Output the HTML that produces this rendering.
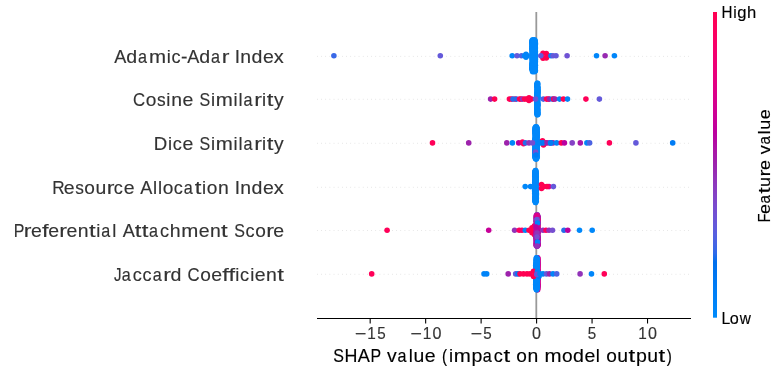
<!DOCTYPE html><html><head><meta charset="utf-8"><style>html,body{margin:0;padding:0;background:#fff;width:774px;height:370px;overflow:hidden}svg{display:block;will-change:transform}text{font-family:"Liberation Sans",sans-serif}</style></head><body>
<svg width="774" height="370" viewBox="0 0 774 370">
<defs><linearGradient id="cb" x1="0" y1="1" x2="0" y2="0">
<stop offset="0.000" stop-color="#008bfb"/>
<stop offset="0.030" stop-color="#0086fa"/>
<stop offset="0.061" stop-color="#0082f8"/>
<stop offset="0.091" stop-color="#007ef6"/>
<stop offset="0.121" stop-color="#0079f3"/>
<stop offset="0.152" stop-color="#0074f0"/>
<stop offset="0.182" stop-color="#006fed"/>
<stop offset="0.212" stop-color="#306ae9"/>
<stop offset="0.242" stop-color="#4664e4"/>
<stop offset="0.273" stop-color="#575fdf"/>
<stop offset="0.303" stop-color="#6459da"/>
<stop offset="0.333" stop-color="#6f52d4"/>
<stop offset="0.364" stop-color="#794cce"/>
<stop offset="0.394" stop-color="#8244c7"/>
<stop offset="0.424" stop-color="#8a3cc0"/>
<stop offset="0.455" stop-color="#9233b9"/>
<stop offset="0.485" stop-color="#9829b1"/>
<stop offset="0.515" stop-color="#a01fab"/>
<stop offset="0.545" stop-color="#aa17a7"/>
<stop offset="0.576" stop-color="#b30aa3"/>
<stop offset="0.606" stop-color="#bc009f"/>
<stop offset="0.636" stop-color="#c5009a"/>
<stop offset="0.667" stop-color="#cd0095"/>
<stop offset="0.697" stop-color="#d40090"/>
<stop offset="0.727" stop-color="#db008a"/>
<stop offset="0.758" stop-color="#e10084"/>
<stop offset="0.788" stop-color="#e7007e"/>
<stop offset="0.818" stop-color="#ec0078"/>
<stop offset="0.848" stop-color="#f10072"/>
<stop offset="0.879" stop-color="#f6006c"/>
<stop offset="0.909" stop-color="#fa0065"/>
<stop offset="0.939" stop-color="#fd005f"/>
<stop offset="0.970" stop-color="#ff0058"/>
<stop offset="1.000" stop-color="#ff0051"/>
<stop offset="1" stop-color="#ff0051"/>
</linearGradient></defs>
<line x1="317" y1="56.40" x2="691" y2="56.40" stroke="#d0d0d0" stroke-width="0.7" stroke-dasharray="0.7 3.47"/>
<line x1="317" y1="99.30" x2="691" y2="99.30" stroke="#d0d0d0" stroke-width="0.7" stroke-dasharray="0.7 3.47"/>
<line x1="317" y1="143.30" x2="691" y2="143.30" stroke="#d0d0d0" stroke-width="0.7" stroke-dasharray="0.7 3.47"/>
<line x1="317" y1="187.30" x2="691" y2="187.30" stroke="#d0d0d0" stroke-width="0.7" stroke-dasharray="0.7 3.47"/>
<line x1="317" y1="230.50" x2="691" y2="230.50" stroke="#d0d0d0" stroke-width="0.7" stroke-dasharray="0.7 3.47"/>
<line x1="317" y1="274.30" x2="691" y2="274.30" stroke="#d0d0d0" stroke-width="0.7" stroke-dasharray="0.7 3.47"/>
<line x1="536.3" y1="12" x2="536.3" y2="318.5" stroke="#999999" stroke-width="1.8"/>
<circle cx="333.90" cy="55.80" r="2.78" fill="#3968e7"/>
<circle cx="440.30" cy="55.80" r="2.78" fill="#6459da"/>
<circle cx="512.20" cy="55.80" r="2.78" fill="#0086fa"/>
<circle cx="517.00" cy="55.80" r="2.78" fill="#6459da"/>
<circle cx="521.50" cy="55.80" r="2.78" fill="#4c63e3"/>
<circle cx="524.50" cy="55.80" r="2.78" fill="#0084f8"/>
<circle cx="527.00" cy="55.80" r="2.78" fill="#007cf5"/>
<circle cx="526.00" cy="54.30" r="2.78" fill="#0084f8"/>
<circle cx="526.00" cy="57.30" r="2.78" fill="#0084f8"/>
<circle cx="532.68" cy="39.68" r="2.78" fill="#0088fa"/>
<circle cx="534.52" cy="39.68" r="2.78" fill="#0088fa"/>
<circle cx="531.92" cy="40.79" r="2.78" fill="#0088fa"/>
<circle cx="535.15" cy="40.79" r="2.78" fill="#0088fa"/>
<circle cx="533.13" cy="40.79" r="2.78" fill="#0088fa"/>
<circle cx="532.14" cy="41.90" r="2.78" fill="#0088fa"/>
<circle cx="535.20" cy="41.90" r="2.78" fill="#0088fa"/>
<circle cx="532.02" cy="41.90" r="2.78" fill="#0088fa"/>
<circle cx="531.79" cy="43.00" r="2.78" fill="#0088fa"/>
<circle cx="535.32" cy="43.00" r="2.78" fill="#0088fa"/>
<circle cx="532.72" cy="43.00" r="2.78" fill="#0088fa"/>
<circle cx="531.92" cy="44.11" r="2.78" fill="#0088fa"/>
<circle cx="535.42" cy="44.11" r="2.78" fill="#0088fa"/>
<circle cx="533.49" cy="44.11" r="2.78" fill="#0088fa"/>
<circle cx="532.28" cy="45.22" r="2.78" fill="#0088fa"/>
<circle cx="535.11" cy="45.22" r="2.78" fill="#0088fa"/>
<circle cx="534.11" cy="45.22" r="2.78" fill="#0088fa"/>
<circle cx="531.87" cy="46.33" r="2.78" fill="#0088fa"/>
<circle cx="535.20" cy="46.33" r="2.78" fill="#0088fa"/>
<circle cx="534.94" cy="46.33" r="2.78" fill="#0088fa"/>
<circle cx="532.09" cy="47.44" r="2.78" fill="#0088fa"/>
<circle cx="535.26" cy="47.44" r="2.78" fill="#0088fa"/>
<circle cx="534.22" cy="47.44" r="2.78" fill="#0088fa"/>
<circle cx="531.82" cy="48.55" r="2.78" fill="#0088fa"/>
<circle cx="535.27" cy="48.55" r="2.78" fill="#0088fa"/>
<circle cx="533.93" cy="48.55" r="2.78" fill="#0088fa"/>
<circle cx="531.96" cy="49.65" r="2.78" fill="#0088fa"/>
<circle cx="534.84" cy="49.65" r="2.78" fill="#0088fa"/>
<circle cx="534.93" cy="49.65" r="2.78" fill="#0088fa"/>
<circle cx="532.06" cy="50.76" r="2.78" fill="#0088fa"/>
<circle cx="535.25" cy="50.76" r="2.78" fill="#0088fa"/>
<circle cx="534.98" cy="50.76" r="2.78" fill="#0088fa"/>
<circle cx="532.21" cy="51.87" r="2.78" fill="#0088fa"/>
<circle cx="535.37" cy="51.87" r="2.78" fill="#0088fa"/>
<circle cx="533.22" cy="51.87" r="2.78" fill="#0088fa"/>
<circle cx="532.26" cy="52.98" r="2.78" fill="#0088fa"/>
<circle cx="535.09" cy="52.98" r="2.78" fill="#0088fa"/>
<circle cx="535.19" cy="52.98" r="2.78" fill="#0088fa"/>
<circle cx="532.31" cy="54.09" r="2.78" fill="#0088fa"/>
<circle cx="534.88" cy="54.09" r="2.78" fill="#0088fa"/>
<circle cx="532.27" cy="54.09" r="2.78" fill="#0088fa"/>
<circle cx="531.91" cy="55.20" r="2.78" fill="#0088fa"/>
<circle cx="535.40" cy="55.20" r="2.78" fill="#0088fa"/>
<circle cx="533.37" cy="55.20" r="2.78" fill="#0088fa"/>
<circle cx="532.16" cy="56.30" r="2.78" fill="#0088fa"/>
<circle cx="535.00" cy="56.30" r="2.78" fill="#0088fa"/>
<circle cx="533.63" cy="56.30" r="2.78" fill="#0088fa"/>
<circle cx="532.01" cy="57.41" r="2.78" fill="#0088fa"/>
<circle cx="535.03" cy="57.41" r="2.78" fill="#0088fa"/>
<circle cx="533.91" cy="57.41" r="2.78" fill="#0088fa"/>
<circle cx="532.13" cy="58.52" r="2.78" fill="#0088fa"/>
<circle cx="535.36" cy="58.52" r="2.78" fill="#0088fa"/>
<circle cx="534.26" cy="58.52" r="2.78" fill="#0088fa"/>
<circle cx="532.34" cy="59.63" r="2.78" fill="#0088fa"/>
<circle cx="535.33" cy="59.63" r="2.78" fill="#0088fa"/>
<circle cx="535.39" cy="59.63" r="2.78" fill="#0088fa"/>
<circle cx="532.18" cy="60.74" r="2.78" fill="#0088fa"/>
<circle cx="534.92" cy="60.74" r="2.78" fill="#0088fa"/>
<circle cx="534.91" cy="60.74" r="2.78" fill="#0088fa"/>
<circle cx="532.36" cy="61.85" r="2.78" fill="#0088fa"/>
<circle cx="535.36" cy="61.85" r="2.78" fill="#0088fa"/>
<circle cx="533.85" cy="61.85" r="2.78" fill="#0088fa"/>
<circle cx="532.21" cy="62.95" r="2.78" fill="#0088fa"/>
<circle cx="534.95" cy="62.95" r="2.78" fill="#0088fa"/>
<circle cx="534.81" cy="62.95" r="2.78" fill="#0088fa"/>
<circle cx="532.12" cy="64.06" r="2.78" fill="#0088fa"/>
<circle cx="534.99" cy="64.06" r="2.78" fill="#0088fa"/>
<circle cx="532.01" cy="64.06" r="2.78" fill="#0088fa"/>
<circle cx="532.29" cy="65.17" r="2.78" fill="#0088fa"/>
<circle cx="535.41" cy="65.17" r="2.78" fill="#0088fa"/>
<circle cx="532.10" cy="65.17" r="2.78" fill="#0088fa"/>
<circle cx="532.26" cy="66.28" r="2.78" fill="#0088fa"/>
<circle cx="535.07" cy="66.28" r="2.78" fill="#0088fa"/>
<circle cx="532.33" cy="66.28" r="2.78" fill="#0088fa"/>
<circle cx="531.96" cy="67.39" r="2.78" fill="#0088fa"/>
<circle cx="535.28" cy="67.39" r="2.78" fill="#0088fa"/>
<circle cx="534.96" cy="67.39" r="2.78" fill="#0088fa"/>
<circle cx="531.81" cy="68.50" r="2.78" fill="#0088fa"/>
<circle cx="535.19" cy="68.50" r="2.78" fill="#0088fa"/>
<circle cx="531.94" cy="68.50" r="2.78" fill="#0088fa"/>
<circle cx="532.21" cy="69.60" r="2.78" fill="#0088fa"/>
<circle cx="535.02" cy="69.60" r="2.78" fill="#0088fa"/>
<circle cx="534.99" cy="69.60" r="2.78" fill="#0088fa"/>
<circle cx="532.37" cy="70.71" r="2.78" fill="#0088fa"/>
<circle cx="535.12" cy="70.71" r="2.78" fill="#0088fa"/>
<circle cx="535.41" cy="70.71" r="2.78" fill="#0088fa"/>
<circle cx="532.68" cy="71.82" r="2.78" fill="#0088fa"/>
<circle cx="534.52" cy="71.82" r="2.78" fill="#0088fa"/>
<circle cx="543.00" cy="53.40" r="2.78" fill="#ff0051"/>
<circle cx="543.00" cy="58.20" r="2.78" fill="#ff0051"/>
<circle cx="546.30" cy="53.60" r="2.78" fill="#ff0051"/>
<circle cx="546.30" cy="58.00" r="2.78" fill="#ff0051"/>
<circle cx="548.30" cy="55.80" r="2.78" fill="#ff0051"/>
<circle cx="540.80" cy="55.80" r="2.78" fill="#6459da"/>
<circle cx="551.00" cy="55.80" r="2.78" fill="#0084f8"/>
<circle cx="553.00" cy="55.80" r="2.78" fill="#6459da"/>
<circle cx="556.00" cy="55.80" r="2.78" fill="#6459da"/>
<circle cx="567.10" cy="55.80" r="2.78" fill="#6f52d4"/>
<circle cx="596.50" cy="55.80" r="2.78" fill="#0086fa"/>
<circle cx="605.10" cy="55.80" r="2.78" fill="#9829b1"/>
<circle cx="614.40" cy="55.80" r="2.78" fill="#0086fa"/>
<circle cx="490.60" cy="99.10" r="2.78" fill="#9d22ac"/>
<circle cx="494.60" cy="99.10" r="2.78" fill="#ff0051"/>
<circle cx="509.40" cy="99.10" r="2.78" fill="#ff0058"/>
<circle cx="511.50" cy="99.10" r="2.78" fill="#ff0051"/>
<circle cx="515.00" cy="99.10" r="2.78" fill="#fe005c"/>
<circle cx="513.00" cy="99.10" r="2.78" fill="#266cea"/>
<circle cx="516.50" cy="99.10" r="2.78" fill="#266cea"/>
<circle cx="519.50" cy="99.10" r="2.78" fill="#fe005c"/>
<circle cx="521.00" cy="99.10" r="2.78" fill="#ff0051"/>
<circle cx="522.50" cy="99.10" r="2.78" fill="#9233b9"/>
<circle cx="524.50" cy="99.10" r="2.78" fill="#ff0051"/>
<circle cx="526.50" cy="99.10" r="2.78" fill="#ff0051"/>
<circle cx="529.00" cy="97.80" r="2.78" fill="#ff0051"/>
<circle cx="529.00" cy="100.40" r="2.78" fill="#ff0051"/>
<circle cx="531.50" cy="99.10" r="2.78" fill="#ff0051"/>
<circle cx="537.68" cy="83.18" r="2.78" fill="#0088fa"/>
<circle cx="537.12" cy="83.18" r="2.78" fill="#0088fa"/>
<circle cx="536.97" cy="84.27" r="2.78" fill="#0088fa"/>
<circle cx="537.47" cy="84.27" r="2.78" fill="#0088fa"/>
<circle cx="537.52" cy="84.27" r="2.78" fill="#0088fa"/>
<circle cx="536.80" cy="85.36" r="2.78" fill="#0088fa"/>
<circle cx="537.54" cy="85.36" r="2.78" fill="#0088fa"/>
<circle cx="537.29" cy="85.36" r="2.78" fill="#0088fa"/>
<circle cx="537.15" cy="86.45" r="2.78" fill="#0088fa"/>
<circle cx="537.51" cy="86.45" r="2.78" fill="#0088fa"/>
<circle cx="536.83" cy="86.45" r="2.78" fill="#0088fa"/>
<circle cx="537.30" cy="87.54" r="2.78" fill="#0088fa"/>
<circle cx="537.61" cy="87.54" r="2.78" fill="#0088fa"/>
<circle cx="537.97" cy="87.54" r="2.78" fill="#0088fa"/>
<circle cx="537.32" cy="88.64" r="2.78" fill="#0088fa"/>
<circle cx="537.65" cy="88.64" r="2.78" fill="#0088fa"/>
<circle cx="537.35" cy="88.64" r="2.78" fill="#0088fa"/>
<circle cx="537.09" cy="89.73" r="2.78" fill="#0088fa"/>
<circle cx="537.81" cy="89.73" r="2.78" fill="#0088fa"/>
<circle cx="537.52" cy="89.73" r="2.78" fill="#0088fa"/>
<circle cx="537.12" cy="90.82" r="2.78" fill="#0088fa"/>
<circle cx="537.79" cy="90.82" r="2.78" fill="#0088fa"/>
<circle cx="537.95" cy="90.82" r="2.78" fill="#0088fa"/>
<circle cx="537.08" cy="91.91" r="2.78" fill="#0088fa"/>
<circle cx="537.68" cy="91.91" r="2.78" fill="#0088fa"/>
<circle cx="537.67" cy="91.91" r="2.78" fill="#0088fa"/>
<circle cx="536.92" cy="93.00" r="2.78" fill="#0088fa"/>
<circle cx="537.60" cy="93.00" r="2.78" fill="#0088fa"/>
<circle cx="537.99" cy="93.00" r="2.78" fill="#0088fa"/>
<circle cx="537.09" cy="94.09" r="2.78" fill="#0088fa"/>
<circle cx="537.75" cy="94.09" r="2.78" fill="#0088fa"/>
<circle cx="536.79" cy="94.09" r="2.78" fill="#0088fa"/>
<circle cx="537.03" cy="95.18" r="2.78" fill="#0088fa"/>
<circle cx="537.77" cy="95.18" r="2.78" fill="#0088fa"/>
<circle cx="536.80" cy="95.18" r="2.78" fill="#0088fa"/>
<circle cx="537.15" cy="96.27" r="2.78" fill="#0088fa"/>
<circle cx="537.80" cy="96.27" r="2.78" fill="#0088fa"/>
<circle cx="536.85" cy="96.27" r="2.78" fill="#0088fa"/>
<circle cx="537.16" cy="97.36" r="2.78" fill="#0088fa"/>
<circle cx="537.70" cy="97.36" r="2.78" fill="#0088fa"/>
<circle cx="537.62" cy="97.36" r="2.78" fill="#0088fa"/>
<circle cx="536.99" cy="98.45" r="2.78" fill="#0088fa"/>
<circle cx="537.84" cy="98.45" r="2.78" fill="#0088fa"/>
<circle cx="537.70" cy="98.45" r="2.78" fill="#0088fa"/>
<circle cx="536.79" cy="99.55" r="2.78" fill="#0088fa"/>
<circle cx="537.46" cy="99.55" r="2.78" fill="#0088fa"/>
<circle cx="537.62" cy="99.55" r="2.78" fill="#0088fa"/>
<circle cx="537.36" cy="100.64" r="2.78" fill="#0088fa"/>
<circle cx="537.57" cy="100.64" r="2.78" fill="#0088fa"/>
<circle cx="537.35" cy="100.64" r="2.78" fill="#0088fa"/>
<circle cx="537.14" cy="101.73" r="2.78" fill="#0088fa"/>
<circle cx="537.61" cy="101.73" r="2.78" fill="#0088fa"/>
<circle cx="537.23" cy="101.73" r="2.78" fill="#0088fa"/>
<circle cx="536.97" cy="102.82" r="2.78" fill="#0088fa"/>
<circle cx="537.64" cy="102.82" r="2.78" fill="#0088fa"/>
<circle cx="537.52" cy="102.82" r="2.78" fill="#0088fa"/>
<circle cx="536.96" cy="103.91" r="2.78" fill="#0088fa"/>
<circle cx="537.65" cy="103.91" r="2.78" fill="#0088fa"/>
<circle cx="537.74" cy="103.91" r="2.78" fill="#0088fa"/>
<circle cx="536.80" cy="105.00" r="2.78" fill="#0088fa"/>
<circle cx="537.76" cy="105.00" r="2.78" fill="#0088fa"/>
<circle cx="537.69" cy="105.00" r="2.78" fill="#0088fa"/>
<circle cx="536.97" cy="106.09" r="2.78" fill="#0088fa"/>
<circle cx="537.55" cy="106.09" r="2.78" fill="#0088fa"/>
<circle cx="537.78" cy="106.09" r="2.78" fill="#0088fa"/>
<circle cx="536.92" cy="107.18" r="2.78" fill="#0088fa"/>
<circle cx="537.53" cy="107.18" r="2.78" fill="#0088fa"/>
<circle cx="537.32" cy="107.18" r="2.78" fill="#0088fa"/>
<circle cx="537.20" cy="108.27" r="2.78" fill="#0088fa"/>
<circle cx="537.48" cy="108.27" r="2.78" fill="#0088fa"/>
<circle cx="537.18" cy="108.27" r="2.78" fill="#0088fa"/>
<circle cx="536.98" cy="109.36" r="2.78" fill="#0088fa"/>
<circle cx="537.92" cy="109.36" r="2.78" fill="#0088fa"/>
<circle cx="537.32" cy="109.36" r="2.78" fill="#0088fa"/>
<circle cx="537.29" cy="110.46" r="2.78" fill="#0088fa"/>
<circle cx="537.52" cy="110.46" r="2.78" fill="#0088fa"/>
<circle cx="537.20" cy="110.46" r="2.78" fill="#0088fa"/>
<circle cx="537.17" cy="111.55" r="2.78" fill="#0088fa"/>
<circle cx="537.95" cy="111.55" r="2.78" fill="#0088fa"/>
<circle cx="537.34" cy="111.55" r="2.78" fill="#0088fa"/>
<circle cx="536.92" cy="112.64" r="2.78" fill="#0088fa"/>
<circle cx="537.49" cy="112.64" r="2.78" fill="#0088fa"/>
<circle cx="537.44" cy="112.64" r="2.78" fill="#0088fa"/>
<circle cx="536.89" cy="113.73" r="2.78" fill="#0088fa"/>
<circle cx="537.90" cy="113.73" r="2.78" fill="#0088fa"/>
<circle cx="537.82" cy="113.73" r="2.78" fill="#0088fa"/>
<circle cx="537.68" cy="114.82" r="2.78" fill="#0088fa"/>
<circle cx="537.12" cy="114.82" r="2.78" fill="#0088fa"/>
<circle cx="535.50" cy="99.10" r="2.78" fill="#6459da"/>
<circle cx="543.30" cy="99.10" r="2.78" fill="#4c63e3"/>
<circle cx="546.50" cy="99.10" r="2.78" fill="#ff0051"/>
<circle cx="548.20" cy="99.10" r="2.78" fill="#ff0058"/>
<circle cx="549.50" cy="99.10" r="2.78" fill="#9d22ac"/>
<circle cx="552.40" cy="99.10" r="2.78" fill="#007cf5"/>
<circle cx="553.50" cy="99.10" r="2.78" fill="#ff0051"/>
<circle cx="555.00" cy="99.10" r="2.78" fill="#9d22ac"/>
<circle cx="559.60" cy="99.10" r="2.78" fill="#0084f8"/>
<circle cx="563.40" cy="99.10" r="2.78" fill="#ff0051"/>
<circle cx="567.50" cy="99.10" r="2.78" fill="#0084f8"/>
<circle cx="585.90" cy="99.10" r="2.78" fill="#ff0058"/>
<circle cx="599.40" cy="99.10" r="2.78" fill="#6459da"/>
<circle cx="432.50" cy="142.90" r="2.78" fill="#ff0058"/>
<circle cx="468.70" cy="142.90" r="2.78" fill="#9d22ac"/>
<circle cx="506.80" cy="142.90" r="2.78" fill="#9d22ac"/>
<circle cx="512.40" cy="142.90" r="2.78" fill="#0088fa"/>
<circle cx="518.70" cy="142.90" r="2.78" fill="#b900a0"/>
<circle cx="522.50" cy="142.10" r="2.78" fill="#fe005c"/>
<circle cx="523.50" cy="143.70" r="2.78" fill="#fe005c"/>
<circle cx="525.50" cy="142.90" r="2.78" fill="#266cea"/>
<circle cx="529.00" cy="142.90" r="2.78" fill="#9233b9"/>
<circle cx="535.68" cy="126.88" r="2.78" fill="#0088fa"/>
<circle cx="536.42" cy="126.88" r="2.78" fill="#0088fa"/>
<circle cx="534.89" cy="127.99" r="2.78" fill="#0088fa"/>
<circle cx="536.89" cy="127.99" r="2.78" fill="#0088fa"/>
<circle cx="536.83" cy="127.99" r="2.78" fill="#0088fa"/>
<circle cx="535.17" cy="129.10" r="2.78" fill="#0088fa"/>
<circle cx="537.20" cy="129.10" r="2.78" fill="#0088fa"/>
<circle cx="535.66" cy="129.10" r="2.78" fill="#0088fa"/>
<circle cx="534.86" cy="130.22" r="2.78" fill="#0088fa"/>
<circle cx="536.90" cy="130.22" r="2.78" fill="#0088fa"/>
<circle cx="536.80" cy="130.22" r="2.78" fill="#0088fa"/>
<circle cx="534.94" cy="131.33" r="2.78" fill="#0088fa"/>
<circle cx="536.93" cy="131.33" r="2.78" fill="#0088fa"/>
<circle cx="535.84" cy="131.33" r="2.78" fill="#0088fa"/>
<circle cx="535.03" cy="132.44" r="2.78" fill="#0088fa"/>
<circle cx="536.97" cy="132.44" r="2.78" fill="#0088fa"/>
<circle cx="537.12" cy="132.44" r="2.78" fill="#0088fa"/>
<circle cx="534.87" cy="133.55" r="2.78" fill="#0088fa"/>
<circle cx="536.72" cy="133.55" r="2.78" fill="#0088fa"/>
<circle cx="537.18" cy="133.55" r="2.78" fill="#0088fa"/>
<circle cx="535.31" cy="134.66" r="2.78" fill="#0088fa"/>
<circle cx="537.31" cy="134.66" r="2.78" fill="#0088fa"/>
<circle cx="535.88" cy="134.66" r="2.78" fill="#0088fa"/>
<circle cx="535.35" cy="135.77" r="2.78" fill="#0088fa"/>
<circle cx="537.28" cy="135.77" r="2.78" fill="#0088fa"/>
<circle cx="535.34" cy="135.77" r="2.78" fill="#0088fa"/>
<circle cx="535.23" cy="136.89" r="2.78" fill="#0088fa"/>
<circle cx="537.22" cy="136.89" r="2.78" fill="#0088fa"/>
<circle cx="536.46" cy="136.89" r="2.78" fill="#0088fa"/>
<circle cx="535.09" cy="138.00" r="2.78" fill="#0088fa"/>
<circle cx="536.89" cy="138.00" r="2.78" fill="#0088fa"/>
<circle cx="535.65" cy="138.00" r="2.78" fill="#0088fa"/>
<circle cx="534.92" cy="139.11" r="2.78" fill="#0088fa"/>
<circle cx="536.76" cy="139.11" r="2.78" fill="#0088fa"/>
<circle cx="536.28" cy="139.11" r="2.78" fill="#0088fa"/>
<circle cx="534.95" cy="140.22" r="2.78" fill="#0088fa"/>
<circle cx="537.21" cy="140.22" r="2.78" fill="#0088fa"/>
<circle cx="534.89" cy="140.22" r="2.78" fill="#0088fa"/>
<circle cx="535.32" cy="141.33" r="2.78" fill="#0088fa"/>
<circle cx="537.14" cy="141.33" r="2.78" fill="#0088fa"/>
<circle cx="537.13" cy="141.33" r="2.78" fill="#0088fa"/>
<circle cx="535.32" cy="142.44" r="2.78" fill="#0088fa"/>
<circle cx="537.26" cy="142.44" r="2.78" fill="#0088fa"/>
<circle cx="536.25" cy="142.44" r="2.78" fill="#0088fa"/>
<circle cx="534.79" cy="143.56" r="2.78" fill="#0088fa"/>
<circle cx="537.17" cy="143.56" r="2.78" fill="#0088fa"/>
<circle cx="535.22" cy="143.56" r="2.78" fill="#0088fa"/>
<circle cx="534.96" cy="144.67" r="2.78" fill="#0088fa"/>
<circle cx="537.12" cy="144.67" r="2.78" fill="#0088fa"/>
<circle cx="536.11" cy="144.67" r="2.78" fill="#0088fa"/>
<circle cx="535.03" cy="145.78" r="2.78" fill="#0088fa"/>
<circle cx="537.28" cy="145.78" r="2.78" fill="#0088fa"/>
<circle cx="536.33" cy="145.78" r="2.78" fill="#0088fa"/>
<circle cx="534.98" cy="146.89" r="2.78" fill="#0088fa"/>
<circle cx="536.87" cy="146.89" r="2.78" fill="#0088fa"/>
<circle cx="536.97" cy="146.89" r="2.78" fill="#0088fa"/>
<circle cx="535.07" cy="148.00" r="2.78" fill="#0088fa"/>
<circle cx="537.19" cy="148.00" r="2.78" fill="#0088fa"/>
<circle cx="535.67" cy="148.00" r="2.78" fill="#0088fa"/>
<circle cx="534.90" cy="149.11" r="2.78" fill="#0088fa"/>
<circle cx="537.04" cy="149.11" r="2.78" fill="#0088fa"/>
<circle cx="536.85" cy="149.11" r="2.78" fill="#0088fa"/>
<circle cx="534.88" cy="150.23" r="2.78" fill="#0088fa"/>
<circle cx="537.20" cy="150.23" r="2.78" fill="#0088fa"/>
<circle cx="537.12" cy="150.23" r="2.78" fill="#0088fa"/>
<circle cx="535.26" cy="151.34" r="2.78" fill="#0088fa"/>
<circle cx="537.21" cy="151.34" r="2.78" fill="#0088fa"/>
<circle cx="534.80" cy="151.34" r="2.78" fill="#0088fa"/>
<circle cx="535.16" cy="152.45" r="2.78" fill="#0088fa"/>
<circle cx="537.24" cy="152.45" r="2.78" fill="#0088fa"/>
<circle cx="534.91" cy="152.45" r="2.78" fill="#0088fa"/>
<circle cx="534.94" cy="153.56" r="2.78" fill="#0088fa"/>
<circle cx="536.88" cy="153.56" r="2.78" fill="#0088fa"/>
<circle cx="536.12" cy="153.56" r="2.78" fill="#0088fa"/>
<circle cx="535.03" cy="154.67" r="2.78" fill="#0088fa"/>
<circle cx="537.00" cy="154.67" r="2.78" fill="#0088fa"/>
<circle cx="536.75" cy="154.67" r="2.78" fill="#0088fa"/>
<circle cx="534.78" cy="155.78" r="2.78" fill="#0088fa"/>
<circle cx="536.75" cy="155.78" r="2.78" fill="#0088fa"/>
<circle cx="535.10" cy="155.78" r="2.78" fill="#0088fa"/>
<circle cx="534.85" cy="156.90" r="2.78" fill="#0088fa"/>
<circle cx="536.76" cy="156.90" r="2.78" fill="#0088fa"/>
<circle cx="537.26" cy="156.90" r="2.78" fill="#0088fa"/>
<circle cx="535.29" cy="158.01" r="2.78" fill="#0088fa"/>
<circle cx="536.77" cy="158.01" r="2.78" fill="#0088fa"/>
<circle cx="536.06" cy="158.01" r="2.78" fill="#0088fa"/>
<circle cx="535.68" cy="159.12" r="2.78" fill="#0088fa"/>
<circle cx="536.42" cy="159.12" r="2.78" fill="#0088fa"/>
<circle cx="535.50" cy="152.00" r="2.78" fill="#764ed0"/>
<circle cx="536.00" cy="155.00" r="2.78" fill="#007cf5"/>
<circle cx="532.50" cy="142.90" r="2.78" fill="#764ed0"/>
<circle cx="538.50" cy="142.90" r="2.78" fill="#0084f8"/>
<circle cx="542.50" cy="140.90" r="2.78" fill="#ff0051"/>
<circle cx="543.50" cy="144.90" r="2.78" fill="#ff0051"/>
<circle cx="545.50" cy="142.90" r="2.78" fill="#fe005c"/>
<circle cx="540.50" cy="142.90" r="2.78" fill="#0084f8"/>
<circle cx="543.00" cy="142.90" r="2.78" fill="#007cf5"/>
<circle cx="547.00" cy="142.90" r="2.78" fill="#9d22ac"/>
<circle cx="549.50" cy="142.90" r="2.78" fill="#9d22ac"/>
<circle cx="550.50" cy="142.90" r="2.78" fill="#0084f8"/>
<circle cx="553.00" cy="142.90" r="2.78" fill="#9d22ac"/>
<circle cx="551.00" cy="142.90" r="2.78" fill="#007cf5"/>
<circle cx="556.70" cy="142.90" r="2.78" fill="#0084f8"/>
<circle cx="561.30" cy="142.90" r="2.78" fill="#ff0051"/>
<circle cx="564.40" cy="142.90" r="2.78" fill="#b900a0"/>
<circle cx="572.20" cy="142.90" r="2.78" fill="#8542c5"/>
<circle cx="580.30" cy="142.90" r="2.78" fill="#aa17a7"/>
<circle cx="586.90" cy="142.90" r="2.78" fill="#0084f8"/>
<circle cx="589.60" cy="142.90" r="2.78" fill="#4c63e3"/>
<circle cx="609.40" cy="142.90" r="2.78" fill="#ff0058"/>
<circle cx="635.90" cy="142.90" r="2.78" fill="#6459da"/>
<circle cx="672.70" cy="142.90" r="2.78" fill="#007cf5"/>
<circle cx="525.20" cy="186.60" r="2.78" fill="#0088fa"/>
<circle cx="530.50" cy="186.60" r="2.78" fill="#0086fa"/>
<circle cx="535.58" cy="170.48" r="2.78" fill="#0088fa"/>
<circle cx="535.52" cy="170.48" r="2.78" fill="#0088fa"/>
<circle cx="534.87" cy="171.58" r="2.78" fill="#0088fa"/>
<circle cx="536.01" cy="171.58" r="2.78" fill="#0088fa"/>
<circle cx="535.29" cy="171.58" r="2.78" fill="#0088fa"/>
<circle cx="535.07" cy="172.68" r="2.78" fill="#0088fa"/>
<circle cx="536.17" cy="172.68" r="2.78" fill="#0088fa"/>
<circle cx="535.31" cy="172.68" r="2.78" fill="#0088fa"/>
<circle cx="534.79" cy="173.78" r="2.78" fill="#0088fa"/>
<circle cx="536.02" cy="173.78" r="2.78" fill="#0088fa"/>
<circle cx="534.90" cy="173.78" r="2.78" fill="#0088fa"/>
<circle cx="535.01" cy="174.89" r="2.78" fill="#0088fa"/>
<circle cx="536.25" cy="174.89" r="2.78" fill="#0088fa"/>
<circle cx="535.34" cy="174.89" r="2.78" fill="#0088fa"/>
<circle cx="534.73" cy="175.99" r="2.78" fill="#0088fa"/>
<circle cx="535.93" cy="175.99" r="2.78" fill="#0088fa"/>
<circle cx="535.33" cy="175.99" r="2.78" fill="#0088fa"/>
<circle cx="535.04" cy="177.09" r="2.78" fill="#0088fa"/>
<circle cx="536.29" cy="177.09" r="2.78" fill="#0088fa"/>
<circle cx="535.34" cy="177.09" r="2.78" fill="#0088fa"/>
<circle cx="535.16" cy="178.19" r="2.78" fill="#0088fa"/>
<circle cx="536.19" cy="178.19" r="2.78" fill="#0088fa"/>
<circle cx="535.43" cy="178.19" r="2.78" fill="#0088fa"/>
<circle cx="534.90" cy="179.29" r="2.78" fill="#0088fa"/>
<circle cx="536.12" cy="179.29" r="2.78" fill="#0088fa"/>
<circle cx="535.90" cy="179.29" r="2.78" fill="#0088fa"/>
<circle cx="534.93" cy="180.39" r="2.78" fill="#0088fa"/>
<circle cx="536.24" cy="180.39" r="2.78" fill="#0088fa"/>
<circle cx="535.48" cy="180.39" r="2.78" fill="#0088fa"/>
<circle cx="534.83" cy="181.49" r="2.78" fill="#0088fa"/>
<circle cx="536.14" cy="181.49" r="2.78" fill="#0088fa"/>
<circle cx="535.89" cy="181.49" r="2.78" fill="#0088fa"/>
<circle cx="534.72" cy="182.60" r="2.78" fill="#0088fa"/>
<circle cx="536.07" cy="182.60" r="2.78" fill="#0088fa"/>
<circle cx="535.42" cy="182.60" r="2.78" fill="#0088fa"/>
<circle cx="535.21" cy="183.70" r="2.78" fill="#0088fa"/>
<circle cx="536.38" cy="183.70" r="2.78" fill="#0088fa"/>
<circle cx="535.33" cy="183.70" r="2.78" fill="#0088fa"/>
<circle cx="535.22" cy="184.80" r="2.78" fill="#0088fa"/>
<circle cx="536.29" cy="184.80" r="2.78" fill="#0088fa"/>
<circle cx="535.14" cy="184.80" r="2.78" fill="#0088fa"/>
<circle cx="534.96" cy="185.90" r="2.78" fill="#0088fa"/>
<circle cx="535.89" cy="185.90" r="2.78" fill="#0088fa"/>
<circle cx="536.10" cy="185.90" r="2.78" fill="#0088fa"/>
<circle cx="535.08" cy="187.00" r="2.78" fill="#0088fa"/>
<circle cx="536.35" cy="187.00" r="2.78" fill="#0088fa"/>
<circle cx="536.06" cy="187.00" r="2.78" fill="#0088fa"/>
<circle cx="535.08" cy="188.10" r="2.78" fill="#0088fa"/>
<circle cx="536.26" cy="188.10" r="2.78" fill="#0088fa"/>
<circle cx="535.66" cy="188.10" r="2.78" fill="#0088fa"/>
<circle cx="534.74" cy="189.20" r="2.78" fill="#0088fa"/>
<circle cx="536.17" cy="189.20" r="2.78" fill="#0088fa"/>
<circle cx="534.69" cy="189.20" r="2.78" fill="#0088fa"/>
<circle cx="534.77" cy="190.30" r="2.78" fill="#0088fa"/>
<circle cx="536.28" cy="190.30" r="2.78" fill="#0088fa"/>
<circle cx="534.76" cy="190.30" r="2.78" fill="#0088fa"/>
<circle cx="534.74" cy="191.41" r="2.78" fill="#0088fa"/>
<circle cx="535.88" cy="191.41" r="2.78" fill="#0088fa"/>
<circle cx="536.21" cy="191.41" r="2.78" fill="#0088fa"/>
<circle cx="534.79" cy="192.51" r="2.78" fill="#0088fa"/>
<circle cx="535.83" cy="192.51" r="2.78" fill="#0088fa"/>
<circle cx="536.14" cy="192.51" r="2.78" fill="#0088fa"/>
<circle cx="534.75" cy="193.61" r="2.78" fill="#0088fa"/>
<circle cx="536.33" cy="193.61" r="2.78" fill="#0088fa"/>
<circle cx="535.85" cy="193.61" r="2.78" fill="#0088fa"/>
<circle cx="535.18" cy="194.71" r="2.78" fill="#0088fa"/>
<circle cx="536.39" cy="194.71" r="2.78" fill="#0088fa"/>
<circle cx="535.69" cy="194.71" r="2.78" fill="#0088fa"/>
<circle cx="535.16" cy="195.81" r="2.78" fill="#0088fa"/>
<circle cx="535.84" cy="195.81" r="2.78" fill="#0088fa"/>
<circle cx="536.02" cy="195.81" r="2.78" fill="#0088fa"/>
<circle cx="534.99" cy="196.91" r="2.78" fill="#0088fa"/>
<circle cx="536.25" cy="196.91" r="2.78" fill="#0088fa"/>
<circle cx="534.87" cy="196.91" r="2.78" fill="#0088fa"/>
<circle cx="535.13" cy="198.01" r="2.78" fill="#0088fa"/>
<circle cx="536.38" cy="198.01" r="2.78" fill="#0088fa"/>
<circle cx="534.79" cy="198.01" r="2.78" fill="#0088fa"/>
<circle cx="534.87" cy="199.12" r="2.78" fill="#0088fa"/>
<circle cx="536.16" cy="199.12" r="2.78" fill="#0088fa"/>
<circle cx="536.12" cy="199.12" r="2.78" fill="#0088fa"/>
<circle cx="534.83" cy="200.22" r="2.78" fill="#0088fa"/>
<circle cx="535.93" cy="200.22" r="2.78" fill="#0088fa"/>
<circle cx="535.11" cy="200.22" r="2.78" fill="#0088fa"/>
<circle cx="535.05" cy="201.32" r="2.78" fill="#0088fa"/>
<circle cx="536.27" cy="201.32" r="2.78" fill="#0088fa"/>
<circle cx="535.37" cy="201.32" r="2.78" fill="#0088fa"/>
<circle cx="535.58" cy="202.42" r="2.78" fill="#0088fa"/>
<circle cx="535.52" cy="202.42" r="2.78" fill="#0088fa"/>
<circle cx="541.50" cy="184.60" r="2.78" fill="#ff0051"/>
<circle cx="541.50" cy="188.40" r="2.78" fill="#ff0051"/>
<circle cx="544.00" cy="186.60" r="2.78" fill="#ff0051"/>
<circle cx="549.00" cy="186.60" r="2.78" fill="#d40090"/>
<circle cx="547.00" cy="186.60" r="2.78" fill="#ff0051"/>
<circle cx="553.40" cy="186.60" r="2.78" fill="#6459da"/>
<circle cx="387.10" cy="230.30" r="2.78" fill="#ff0058"/>
<circle cx="488.70" cy="230.30" r="2.78" fill="#c70098"/>
<circle cx="514.60" cy="230.30" r="2.78" fill="#9233b9"/>
<circle cx="519.20" cy="230.30" r="2.78" fill="#fe005c"/>
<circle cx="522.00" cy="230.30" r="2.78" fill="#f80067"/>
<circle cx="525.30" cy="230.30" r="2.78" fill="#0084f8"/>
<circle cx="529.00" cy="230.30" r="2.78" fill="#ff0051"/>
<circle cx="532.00" cy="227.80" r="2.78" fill="#ff0051"/>
<circle cx="532.00" cy="232.80" r="2.78" fill="#ff0051"/>
<circle cx="534.50" cy="225.80" r="2.78" fill="#ff0051"/>
<circle cx="534.50" cy="234.80" r="2.78" fill="#ff0051"/>
<circle cx="531.50" cy="230.30" r="2.78" fill="#ff0051"/>
<circle cx="536.88" cy="214.78" r="2.78" fill="#aa17a7"/>
<circle cx="537.22" cy="214.78" r="2.78" fill="#9233b9"/>
<circle cx="536.22" cy="215.86" r="2.78" fill="#b900a0"/>
<circle cx="537.73" cy="215.86" r="2.78" fill="#9d22ac"/>
<circle cx="536.87" cy="215.86" r="2.78" fill="#9233b9"/>
<circle cx="536.12" cy="216.95" r="2.78" fill="#c70098"/>
<circle cx="538.08" cy="216.95" r="2.78" fill="#9d22ac"/>
<circle cx="537.79" cy="216.95" r="2.78" fill="#b900a0"/>
<circle cx="536.32" cy="218.03" r="2.78" fill="#b900a0"/>
<circle cx="537.87" cy="218.03" r="2.78" fill="#9d22ac"/>
<circle cx="537.96" cy="218.03" r="2.78" fill="#c70098"/>
<circle cx="536.37" cy="219.12" r="2.78" fill="#b900a0"/>
<circle cx="538.06" cy="219.12" r="2.78" fill="#9d22ac"/>
<circle cx="536.30" cy="219.12" r="2.78" fill="#b900a0"/>
<circle cx="536.27" cy="220.20" r="2.78" fill="#9233b9"/>
<circle cx="537.94" cy="220.20" r="2.78" fill="#b900a0"/>
<circle cx="538.01" cy="220.20" r="2.78" fill="#f80067"/>
<circle cx="536.09" cy="221.28" r="2.78" fill="#9233b9"/>
<circle cx="537.68" cy="221.28" r="2.78" fill="#9233b9"/>
<circle cx="536.41" cy="221.28" r="2.78" fill="#aa17a7"/>
<circle cx="536.54" cy="222.37" r="2.78" fill="#f80067"/>
<circle cx="538.03" cy="222.37" r="2.78" fill="#aa17a7"/>
<circle cx="537.13" cy="222.37" r="2.78" fill="#b900a0"/>
<circle cx="536.40" cy="223.45" r="2.78" fill="#9233b9"/>
<circle cx="537.77" cy="223.45" r="2.78" fill="#aa17a7"/>
<circle cx="537.81" cy="223.45" r="2.78" fill="#c70098"/>
<circle cx="536.16" cy="224.54" r="2.78" fill="#c70098"/>
<circle cx="537.68" cy="224.54" r="2.78" fill="#c70098"/>
<circle cx="537.70" cy="224.54" r="2.78" fill="#9233b9"/>
<circle cx="536.20" cy="225.62" r="2.78" fill="#c70098"/>
<circle cx="537.71" cy="225.62" r="2.78" fill="#9d22ac"/>
<circle cx="537.64" cy="225.62" r="2.78" fill="#b900a0"/>
<circle cx="536.27" cy="226.71" r="2.78" fill="#f80067"/>
<circle cx="537.88" cy="226.71" r="2.78" fill="#f80067"/>
<circle cx="536.98" cy="226.71" r="2.78" fill="#b900a0"/>
<circle cx="536.31" cy="227.79" r="2.78" fill="#f80067"/>
<circle cx="537.81" cy="227.79" r="2.78" fill="#9d22ac"/>
<circle cx="537.52" cy="227.79" r="2.78" fill="#f80067"/>
<circle cx="536.42" cy="228.87" r="2.78" fill="#c70098"/>
<circle cx="538.10" cy="228.87" r="2.78" fill="#c70098"/>
<circle cx="536.98" cy="228.87" r="2.78" fill="#b900a0"/>
<circle cx="536.41" cy="229.96" r="2.78" fill="#f80067"/>
<circle cx="537.93" cy="229.96" r="2.78" fill="#aa17a7"/>
<circle cx="538.03" cy="229.96" r="2.78" fill="#c70098"/>
<circle cx="536.51" cy="231.04" r="2.78" fill="#9233b9"/>
<circle cx="537.99" cy="231.04" r="2.78" fill="#b900a0"/>
<circle cx="536.27" cy="231.04" r="2.78" fill="#b900a0"/>
<circle cx="536.50" cy="232.13" r="2.78" fill="#f80067"/>
<circle cx="538.06" cy="232.13" r="2.78" fill="#b900a0"/>
<circle cx="536.53" cy="232.13" r="2.78" fill="#aa17a7"/>
<circle cx="536.09" cy="233.21" r="2.78" fill="#b900a0"/>
<circle cx="537.57" cy="233.21" r="2.78" fill="#b900a0"/>
<circle cx="537.69" cy="233.21" r="2.78" fill="#aa17a7"/>
<circle cx="536.48" cy="234.29" r="2.78" fill="#9233b9"/>
<circle cx="537.70" cy="234.29" r="2.78" fill="#b900a0"/>
<circle cx="536.74" cy="234.29" r="2.78" fill="#b900a0"/>
<circle cx="536.18" cy="235.38" r="2.78" fill="#9d22ac"/>
<circle cx="537.54" cy="235.38" r="2.78" fill="#9d22ac"/>
<circle cx="536.69" cy="235.38" r="2.78" fill="#b900a0"/>
<circle cx="536.11" cy="236.46" r="2.78" fill="#9d22ac"/>
<circle cx="537.87" cy="236.46" r="2.78" fill="#c70098"/>
<circle cx="538.02" cy="236.46" r="2.78" fill="#9233b9"/>
<circle cx="536.17" cy="237.55" r="2.78" fill="#9d22ac"/>
<circle cx="538.05" cy="237.55" r="2.78" fill="#b900a0"/>
<circle cx="536.14" cy="237.55" r="2.78" fill="#9d22ac"/>
<circle cx="536.51" cy="238.63" r="2.78" fill="#b900a0"/>
<circle cx="538.07" cy="238.63" r="2.78" fill="#aa17a7"/>
<circle cx="536.19" cy="238.63" r="2.78" fill="#b900a0"/>
<circle cx="536.44" cy="239.72" r="2.78" fill="#b900a0"/>
<circle cx="537.97" cy="239.72" r="2.78" fill="#b900a0"/>
<circle cx="536.61" cy="239.72" r="2.78" fill="#b900a0"/>
<circle cx="536.55" cy="240.80" r="2.78" fill="#aa17a7"/>
<circle cx="538.01" cy="240.80" r="2.78" fill="#b900a0"/>
<circle cx="536.21" cy="240.80" r="2.78" fill="#9233b9"/>
<circle cx="536.30" cy="241.88" r="2.78" fill="#aa17a7"/>
<circle cx="537.59" cy="241.88" r="2.78" fill="#b900a0"/>
<circle cx="537.04" cy="241.88" r="2.78" fill="#b900a0"/>
<circle cx="536.16" cy="242.97" r="2.78" fill="#b900a0"/>
<circle cx="537.96" cy="242.97" r="2.78" fill="#b900a0"/>
<circle cx="537.57" cy="242.97" r="2.78" fill="#b900a0"/>
<circle cx="536.36" cy="244.05" r="2.78" fill="#b900a0"/>
<circle cx="537.63" cy="244.05" r="2.78" fill="#9d22ac"/>
<circle cx="537.88" cy="244.05" r="2.78" fill="#b900a0"/>
<circle cx="536.04" cy="245.14" r="2.78" fill="#b900a0"/>
<circle cx="537.86" cy="245.14" r="2.78" fill="#b900a0"/>
<circle cx="537.95" cy="245.14" r="2.78" fill="#b900a0"/>
<circle cx="536.88" cy="246.22" r="2.78" fill="#9233b9"/>
<circle cx="537.22" cy="246.22" r="2.78" fill="#9d22ac"/>
<circle cx="537.00" cy="215.50" r="2.78" fill="#df0086"/>
<circle cx="537.00" cy="219.50" r="2.78" fill="#6459da"/>
<circle cx="537.50" cy="223.00" r="2.78" fill="#0084f8"/>
<circle cx="536.00" cy="227.00" r="2.78" fill="#b900a0"/>
<circle cx="537.00" cy="233.00" r="2.78" fill="#9233b9"/>
<circle cx="537.00" cy="237.00" r="2.78" fill="#764ed0"/>
<circle cx="537.50" cy="242.00" r="2.78" fill="#0086fa"/>
<circle cx="537.00" cy="246.00" r="2.78" fill="#9233b9"/>
<circle cx="543.00" cy="230.30" r="2.78" fill="#9233b9"/>
<circle cx="546.00" cy="230.30" r="2.78" fill="#fe005c"/>
<circle cx="549.00" cy="230.30" r="2.78" fill="#9233b9"/>
<circle cx="552.50" cy="230.30" r="2.78" fill="#764ed0"/>
<circle cx="564.00" cy="230.30" r="2.78" fill="#266cea"/>
<circle cx="567.80" cy="230.30" r="2.78" fill="#b900a0"/>
<circle cx="579.50" cy="230.30" r="2.78" fill="#0088fa"/>
<circle cx="592.20" cy="230.30" r="2.78" fill="#0088fa"/>
<circle cx="371.70" cy="273.90" r="2.78" fill="#ff0058"/>
<circle cx="484.00" cy="273.90" r="2.78" fill="#0084f8"/>
<circle cx="486.70" cy="273.90" r="2.78" fill="#0084f8"/>
<circle cx="508.20" cy="273.90" r="2.78" fill="#9d22ac"/>
<circle cx="515.70" cy="273.90" r="2.78" fill="#6459da"/>
<circle cx="518.00" cy="273.90" r="2.78" fill="#007cf5"/>
<circle cx="537.68" cy="257.78" r="2.78" fill="#d40090"/>
<circle cx="537.32" cy="257.78" r="2.78" fill="#d40090"/>
<circle cx="537.11" cy="258.88" r="2.78" fill="#d40090"/>
<circle cx="538.01" cy="258.88" r="2.78" fill="#d40090"/>
<circle cx="537.44" cy="258.88" r="2.78" fill="#d40090"/>
<circle cx="536.97" cy="259.98" r="2.78" fill="#d40090"/>
<circle cx="537.73" cy="259.98" r="2.78" fill="#d40090"/>
<circle cx="536.88" cy="259.98" r="2.78" fill="#d40090"/>
<circle cx="537.21" cy="261.08" r="2.78" fill="#d40090"/>
<circle cx="538.07" cy="261.08" r="2.78" fill="#d40090"/>
<circle cx="537.56" cy="261.08" r="2.78" fill="#d40090"/>
<circle cx="537.22" cy="262.19" r="2.78" fill="#d40090"/>
<circle cx="537.84" cy="262.19" r="2.78" fill="#d40090"/>
<circle cx="537.16" cy="262.19" r="2.78" fill="#d40090"/>
<circle cx="537.01" cy="263.29" r="2.78" fill="#d40090"/>
<circle cx="538.14" cy="263.29" r="2.78" fill="#d40090"/>
<circle cx="536.84" cy="263.29" r="2.78" fill="#d40090"/>
<circle cx="537.08" cy="264.39" r="2.78" fill="#d40090"/>
<circle cx="537.77" cy="264.39" r="2.78" fill="#d40090"/>
<circle cx="537.89" cy="264.39" r="2.78" fill="#d40090"/>
<circle cx="536.99" cy="265.49" r="2.78" fill="#d40090"/>
<circle cx="537.82" cy="265.49" r="2.78" fill="#d40090"/>
<circle cx="537.36" cy="265.49" r="2.78" fill="#d40090"/>
<circle cx="537.10" cy="266.59" r="2.78" fill="#d40090"/>
<circle cx="538.08" cy="266.59" r="2.78" fill="#d40090"/>
<circle cx="537.29" cy="266.59" r="2.78" fill="#d40090"/>
<circle cx="537.29" cy="267.69" r="2.78" fill="#d40090"/>
<circle cx="537.69" cy="267.69" r="2.78" fill="#d40090"/>
<circle cx="537.17" cy="267.69" r="2.78" fill="#d40090"/>
<circle cx="536.84" cy="268.79" r="2.78" fill="#d40090"/>
<circle cx="537.69" cy="268.79" r="2.78" fill="#d40090"/>
<circle cx="537.90" cy="268.79" r="2.78" fill="#d40090"/>
<circle cx="537.22" cy="269.90" r="2.78" fill="#d40090"/>
<circle cx="537.73" cy="269.90" r="2.78" fill="#d40090"/>
<circle cx="537.05" cy="269.90" r="2.78" fill="#d40090"/>
<circle cx="537.03" cy="271.00" r="2.78" fill="#d40090"/>
<circle cx="538.07" cy="271.00" r="2.78" fill="#d40090"/>
<circle cx="537.95" cy="271.00" r="2.78" fill="#d40090"/>
<circle cx="537.23" cy="272.10" r="2.78" fill="#d40090"/>
<circle cx="537.98" cy="272.10" r="2.78" fill="#d40090"/>
<circle cx="536.99" cy="272.10" r="2.78" fill="#d40090"/>
<circle cx="537.02" cy="273.20" r="2.78" fill="#d40090"/>
<circle cx="537.74" cy="273.20" r="2.78" fill="#d40090"/>
<circle cx="537.54" cy="273.20" r="2.78" fill="#d40090"/>
<circle cx="537.12" cy="274.30" r="2.78" fill="#d40090"/>
<circle cx="537.74" cy="274.30" r="2.78" fill="#d40090"/>
<circle cx="537.14" cy="274.30" r="2.78" fill="#d40090"/>
<circle cx="537.25" cy="275.40" r="2.78" fill="#d40090"/>
<circle cx="537.64" cy="275.40" r="2.78" fill="#d40090"/>
<circle cx="537.94" cy="275.40" r="2.78" fill="#d40090"/>
<circle cx="537.31" cy="276.50" r="2.78" fill="#d40090"/>
<circle cx="538.19" cy="276.50" r="2.78" fill="#d40090"/>
<circle cx="537.33" cy="276.50" r="2.78" fill="#d40090"/>
<circle cx="537.11" cy="277.60" r="2.78" fill="#d40090"/>
<circle cx="537.97" cy="277.60" r="2.78" fill="#d40090"/>
<circle cx="537.69" cy="277.60" r="2.78" fill="#d40090"/>
<circle cx="537.37" cy="278.71" r="2.78" fill="#d40090"/>
<circle cx="538.03" cy="278.71" r="2.78" fill="#d40090"/>
<circle cx="537.21" cy="278.71" r="2.78" fill="#d40090"/>
<circle cx="537.30" cy="279.81" r="2.78" fill="#d40090"/>
<circle cx="537.91" cy="279.81" r="2.78" fill="#d40090"/>
<circle cx="537.65" cy="279.81" r="2.78" fill="#d40090"/>
<circle cx="537.22" cy="280.91" r="2.78" fill="#d40090"/>
<circle cx="537.62" cy="280.91" r="2.78" fill="#d40090"/>
<circle cx="537.89" cy="280.91" r="2.78" fill="#d40090"/>
<circle cx="537.18" cy="282.01" r="2.78" fill="#d40090"/>
<circle cx="537.92" cy="282.01" r="2.78" fill="#d40090"/>
<circle cx="537.53" cy="282.01" r="2.78" fill="#d40090"/>
<circle cx="537.06" cy="283.11" r="2.78" fill="#d40090"/>
<circle cx="537.74" cy="283.11" r="2.78" fill="#d40090"/>
<circle cx="537.54" cy="283.11" r="2.78" fill="#d40090"/>
<circle cx="536.80" cy="284.21" r="2.78" fill="#d40090"/>
<circle cx="537.92" cy="284.21" r="2.78" fill="#d40090"/>
<circle cx="537.71" cy="284.21" r="2.78" fill="#d40090"/>
<circle cx="537.05" cy="285.31" r="2.78" fill="#d40090"/>
<circle cx="537.96" cy="285.31" r="2.78" fill="#d40090"/>
<circle cx="538.16" cy="285.31" r="2.78" fill="#d40090"/>
<circle cx="537.32" cy="286.42" r="2.78" fill="#d40090"/>
<circle cx="537.70" cy="286.42" r="2.78" fill="#d40090"/>
<circle cx="537.92" cy="286.42" r="2.78" fill="#d40090"/>
<circle cx="537.15" cy="287.52" r="2.78" fill="#d40090"/>
<circle cx="537.65" cy="287.52" r="2.78" fill="#d40090"/>
<circle cx="537.30" cy="287.52" r="2.78" fill="#d40090"/>
<circle cx="536.92" cy="288.62" r="2.78" fill="#d40090"/>
<circle cx="537.67" cy="288.62" r="2.78" fill="#d40090"/>
<circle cx="537.56" cy="288.62" r="2.78" fill="#d40090"/>
<circle cx="537.68" cy="289.72" r="2.78" fill="#d40090"/>
<circle cx="537.32" cy="289.72" r="2.78" fill="#d40090"/>
<circle cx="536.58" cy="257.78" r="2.78" fill="#0088fa"/>
<circle cx="536.52" cy="257.78" r="2.78" fill="#0088fa"/>
<circle cx="536.24" cy="258.88" r="2.78" fill="#0088fa"/>
<circle cx="537.01" cy="258.88" r="2.78" fill="#0088fa"/>
<circle cx="537.19" cy="258.88" r="2.78" fill="#0088fa"/>
<circle cx="536.10" cy="259.98" r="2.78" fill="#0088fa"/>
<circle cx="536.90" cy="259.98" r="2.78" fill="#0088fa"/>
<circle cx="537.17" cy="259.98" r="2.78" fill="#0088fa"/>
<circle cx="536.04" cy="261.08" r="2.78" fill="#0088fa"/>
<circle cx="537.38" cy="261.08" r="2.78" fill="#0088fa"/>
<circle cx="536.93" cy="261.08" r="2.78" fill="#0088fa"/>
<circle cx="536.12" cy="262.19" r="2.78" fill="#0088fa"/>
<circle cx="537.03" cy="262.19" r="2.78" fill="#0088fa"/>
<circle cx="537.08" cy="262.19" r="2.78" fill="#0088fa"/>
<circle cx="536.24" cy="263.29" r="2.78" fill="#0088fa"/>
<circle cx="537.34" cy="263.29" r="2.78" fill="#0088fa"/>
<circle cx="536.44" cy="263.29" r="2.78" fill="#0088fa"/>
<circle cx="536.13" cy="264.39" r="2.78" fill="#0088fa"/>
<circle cx="537.11" cy="264.39" r="2.78" fill="#0088fa"/>
<circle cx="535.87" cy="264.39" r="2.78" fill="#0088fa"/>
<circle cx="535.71" cy="265.49" r="2.78" fill="#0088fa"/>
<circle cx="536.87" cy="265.49" r="2.78" fill="#0088fa"/>
<circle cx="536.03" cy="265.49" r="2.78" fill="#0088fa"/>
<circle cx="535.78" cy="266.59" r="2.78" fill="#0088fa"/>
<circle cx="537.12" cy="266.59" r="2.78" fill="#0088fa"/>
<circle cx="536.90" cy="266.59" r="2.78" fill="#0088fa"/>
<circle cx="536.00" cy="267.69" r="2.78" fill="#0088fa"/>
<circle cx="537.07" cy="267.69" r="2.78" fill="#0088fa"/>
<circle cx="536.81" cy="267.69" r="2.78" fill="#0088fa"/>
<circle cx="535.86" cy="268.79" r="2.78" fill="#0088fa"/>
<circle cx="537.10" cy="268.79" r="2.78" fill="#0088fa"/>
<circle cx="537.00" cy="268.79" r="2.78" fill="#0088fa"/>
<circle cx="535.92" cy="269.90" r="2.78" fill="#0088fa"/>
<circle cx="536.93" cy="269.90" r="2.78" fill="#0088fa"/>
<circle cx="537.24" cy="269.90" r="2.78" fill="#0088fa"/>
<circle cx="536.11" cy="271.00" r="2.78" fill="#0088fa"/>
<circle cx="537.04" cy="271.00" r="2.78" fill="#0088fa"/>
<circle cx="536.33" cy="271.00" r="2.78" fill="#0088fa"/>
<circle cx="536.00" cy="272.10" r="2.78" fill="#0088fa"/>
<circle cx="537.18" cy="272.10" r="2.78" fill="#0088fa"/>
<circle cx="536.07" cy="272.10" r="2.78" fill="#0088fa"/>
<circle cx="535.68" cy="273.20" r="2.78" fill="#0088fa"/>
<circle cx="536.95" cy="273.20" r="2.78" fill="#0088fa"/>
<circle cx="537.04" cy="273.20" r="2.78" fill="#0088fa"/>
<circle cx="535.77" cy="274.30" r="2.78" fill="#0088fa"/>
<circle cx="537.10" cy="274.30" r="2.78" fill="#0088fa"/>
<circle cx="536.02" cy="274.30" r="2.78" fill="#0088fa"/>
<circle cx="535.81" cy="275.40" r="2.78" fill="#0088fa"/>
<circle cx="536.92" cy="275.40" r="2.78" fill="#0088fa"/>
<circle cx="536.38" cy="275.40" r="2.78" fill="#0088fa"/>
<circle cx="535.78" cy="276.50" r="2.78" fill="#0088fa"/>
<circle cx="536.84" cy="276.50" r="2.78" fill="#0088fa"/>
<circle cx="535.87" cy="276.50" r="2.78" fill="#0088fa"/>
<circle cx="535.78" cy="277.60" r="2.78" fill="#0088fa"/>
<circle cx="537.11" cy="277.60" r="2.78" fill="#0088fa"/>
<circle cx="535.78" cy="277.60" r="2.78" fill="#0088fa"/>
<circle cx="535.69" cy="278.71" r="2.78" fill="#0088fa"/>
<circle cx="537.09" cy="278.71" r="2.78" fill="#0088fa"/>
<circle cx="536.39" cy="278.71" r="2.78" fill="#0088fa"/>
<circle cx="536.10" cy="279.81" r="2.78" fill="#0088fa"/>
<circle cx="536.85" cy="279.81" r="2.78" fill="#0088fa"/>
<circle cx="536.38" cy="279.81" r="2.78" fill="#0088fa"/>
<circle cx="535.92" cy="280.91" r="2.78" fill="#0088fa"/>
<circle cx="536.84" cy="280.91" r="2.78" fill="#0088fa"/>
<circle cx="537.36" cy="280.91" r="2.78" fill="#0088fa"/>
<circle cx="535.81" cy="282.01" r="2.78" fill="#0088fa"/>
<circle cx="536.88" cy="282.01" r="2.78" fill="#0088fa"/>
<circle cx="536.51" cy="282.01" r="2.78" fill="#0088fa"/>
<circle cx="535.78" cy="283.11" r="2.78" fill="#0088fa"/>
<circle cx="537.19" cy="283.11" r="2.78" fill="#0088fa"/>
<circle cx="536.28" cy="283.11" r="2.78" fill="#0088fa"/>
<circle cx="535.75" cy="284.21" r="2.78" fill="#0088fa"/>
<circle cx="536.85" cy="284.21" r="2.78" fill="#0088fa"/>
<circle cx="536.95" cy="284.21" r="2.78" fill="#0088fa"/>
<circle cx="535.85" cy="285.31" r="2.78" fill="#0088fa"/>
<circle cx="537.29" cy="285.31" r="2.78" fill="#0088fa"/>
<circle cx="536.49" cy="285.31" r="2.78" fill="#0088fa"/>
<circle cx="536.24" cy="286.42" r="2.78" fill="#0088fa"/>
<circle cx="537.00" cy="286.42" r="2.78" fill="#0088fa"/>
<circle cx="536.11" cy="286.42" r="2.78" fill="#0088fa"/>
<circle cx="535.84" cy="287.52" r="2.78" fill="#0088fa"/>
<circle cx="537.31" cy="287.52" r="2.78" fill="#0088fa"/>
<circle cx="536.77" cy="287.52" r="2.78" fill="#0088fa"/>
<circle cx="535.89" cy="288.62" r="2.78" fill="#0088fa"/>
<circle cx="536.88" cy="288.62" r="2.78" fill="#0088fa"/>
<circle cx="536.87" cy="288.62" r="2.78" fill="#0088fa"/>
<circle cx="536.58" cy="289.72" r="2.78" fill="#0088fa"/>
<circle cx="536.52" cy="289.72" r="2.78" fill="#0088fa"/>
<circle cx="520.00" cy="273.90" r="2.78" fill="#ff0051"/>
<circle cx="523.50" cy="273.90" r="2.78" fill="#ff0051"/>
<circle cx="527.00" cy="273.90" r="2.78" fill="#ff0051"/>
<circle cx="530.00" cy="273.90" r="2.78" fill="#ff0051"/>
<circle cx="533.50" cy="271.30" r="2.78" fill="#ff0051"/>
<circle cx="533.50" cy="276.50" r="2.78" fill="#ff0051"/>
<circle cx="535.50" cy="273.90" r="2.78" fill="#ff0051"/>
<circle cx="537.50" cy="271.40" r="2.78" fill="#0084f8"/>
<circle cx="539.00" cy="276.40" r="2.78" fill="#007cf5"/>
<circle cx="536.80" cy="274.40" r="2.78" fill="#6459da"/>
<circle cx="540.00" cy="273.90" r="2.78" fill="#0084f8"/>
<circle cx="543.00" cy="273.90" r="2.78" fill="#0084f8"/>
<circle cx="546.50" cy="273.90" r="2.78" fill="#6459da"/>
<circle cx="549.50" cy="273.90" r="2.78" fill="#9d22ac"/>
<circle cx="553.00" cy="273.90" r="2.78" fill="#0084f8"/>
<circle cx="556.70" cy="273.90" r="2.78" fill="#4c63e3"/>
<circle cx="580.10" cy="273.90" r="2.78" fill="#9233b9"/>
<circle cx="591.50" cy="273.90" r="2.78" fill="#0086fa"/>
<circle cx="604.30" cy="273.90" r="2.78" fill="#ff0058"/>
<line x1="317" y1="318.5" x2="691" y2="318.5" stroke="#000" stroke-width="1.1"/>
<line x1="370.18" y1="318.5" x2="370.18" y2="323.5" stroke="#000" stroke-width="1.1"/>
<g font-size="15.89" fill="#333333" stroke="#333333" stroke-width="0.15"><text transform="translate(360.48,339.00) scale(1.239,1)" x="-4.64">−</text><text transform="translate(371.85,339.00) scale(0.968,1)" x="-4.64">1</text><text transform="translate(381.34,339.00) scale(0.957,1)" x="-4.40">5</text></g>
<line x1="425.65" y1="318.5" x2="425.65" y2="323.5" stroke="#000" stroke-width="1.1"/>
<g font-size="15.89" fill="#333333" stroke="#333333" stroke-width="0.15"><text transform="translate(415.95,339.00) scale(1.239,1)" x="-4.64">−</text><text transform="translate(427.32,339.00) scale(0.968,1)" x="-4.64">1</text><text transform="translate(436.89,339.00) scale(1.014,1)" x="-4.42">0</text></g>
<line x1="481.12" y1="318.5" x2="481.12" y2="323.5" stroke="#000" stroke-width="1.1"/>
<g font-size="15.89" fill="#333333" stroke="#333333" stroke-width="0.15"><text transform="translate(476.27,339.00) scale(1.239,1)" x="-4.64">−</text><text transform="translate(487.43,339.00) scale(0.957,1)" x="-4.40">5</text></g>
<line x1="536.59" y1="318.5" x2="536.59" y2="323.5" stroke="#000" stroke-width="1.1"/>
<g font-size="15.89" fill="#333333" stroke="#333333" stroke-width="0.15"><text transform="translate(536.59,339.00) scale(1.014,1)" x="-4.42">0</text></g>
<line x1="592.06" y1="318.5" x2="592.06" y2="323.5" stroke="#000" stroke-width="1.1"/>
<g font-size="15.89" fill="#333333" stroke="#333333" stroke-width="0.15"><text transform="translate(591.98,339.00) scale(0.957,1)" x="-4.40">5</text></g>
<line x1="647.53" y1="318.5" x2="647.53" y2="323.5" stroke="#000" stroke-width="1.1"/>
<g font-size="15.89" fill="#333333" stroke="#333333" stroke-width="0.15"><text transform="translate(642.81,339.00) scale(0.968,1)" x="-4.64">1</text><text transform="translate(652.38,339.00) scale(1.014,1)" x="-4.42">0</text></g>
<g font-size="18.72" fill="#333333" stroke="#333333" stroke-width="0.15"><text transform="translate(120.40,63.00) scale(0.969,1)" x="-6.24">A</text><text transform="translate(131.57,63.00) scale(1.045,1)" x="-5.00">d</text><text transform="translate(142.85,63.00) scale(0.865,1)" x="-5.60">a</text><text transform="translate(157.46,63.00) scale(1.096,1)" x="-7.80">m</text><text transform="translate(168.68,63.00) scale(0.983,1)" x="-2.07">i</text><text transform="translate(176.06,63.00) scale(0.965,1)" x="-4.83">c</text><text transform="translate(184.32,63.00) scale(1.037,1)" x="-3.12">-</text><text transform="translate(193.34,63.00) scale(0.969,1)" x="-6.24">A</text><text transform="translate(204.52,63.00) scale(1.045,1)" x="-5.00">d</text><text transform="translate(215.79,63.00) scale(0.865,1)" x="-5.60">a</text><text transform="translate(226.10,63.00) scale(1.232,1)" x="-3.58">r</text><text transform="translate(237.36,63.00) scale(1.017,1)" x="-2.60">I</text><text transform="translate(245.77,63.00) scale(1.037,1)" x="-5.22">n</text><text transform="translate(256.81,63.00) scale(1.045,1)" x="-5.00">d</text><text transform="translate(268.40,63.00) scale(1.039,1)" x="-5.19">e</text><text transform="translate(278.84,63.00) scale(1.067,1)" x="-4.68">x</text></g>
<g font-size="18.72" fill="#333333" stroke="#333333" stroke-width="0.15"><text transform="translate(139.23,106.00) scale(0.893,1)" x="-6.88">C</text><text transform="translate(151.01,106.00) scale(1.022,1)" x="-5.21">o</text><text transform="translate(161.25,106.00) scale(0.922,1)" x="-4.60">s</text><text transform="translate(168.40,106.00) scale(0.983,1)" x="-2.07">i</text><text transform="translate(176.65,106.00) scale(1.037,1)" x="-5.22">n</text><text transform="translate(187.85,106.00) scale(1.039,1)" x="-5.19">e</text><text transform="translate(204.90,106.00) scale(0.857,1)" x="-6.24">S</text><text transform="translate(213.03,106.00) scale(0.983,1)" x="-2.07">i</text><text transform="translate(224.34,106.00) scale(1.096,1)" x="-7.80">m</text><text transform="translate(235.56,106.00) scale(0.983,1)" x="-2.07">i</text><text transform="translate(240.56,106.00) scale(0.983,1)" x="-2.08">l</text><text transform="translate(248.30,106.00) scale(0.865,1)" x="-5.60">a</text><text transform="translate(258.61,106.00) scale(1.232,1)" x="-3.58">r</text><text transform="translate(263.99,106.00) scale(0.983,1)" x="-2.07">i</text><text transform="translate(270.05,106.00) scale(1.285,1)" x="-2.67">t</text><text transform="translate(278.87,106.00) scale(1.033,1)" x="-4.68">y</text></g>
<g font-size="18.72" fill="#333333" stroke="#333333" stroke-width="0.15"><text transform="translate(160.82,150.00) scale(0.995,1)" x="-7.08">D</text><text transform="translate(169.91,150.00) scale(0.983,1)" x="-2.07">i</text><text transform="translate(177.29,150.00) scale(0.965,1)" x="-4.83">c</text><text transform="translate(187.85,150.00) scale(1.039,1)" x="-5.19">e</text><text transform="translate(204.90,150.00) scale(0.857,1)" x="-6.24">S</text><text transform="translate(213.03,150.00) scale(0.983,1)" x="-2.07">i</text><text transform="translate(224.34,150.00) scale(1.096,1)" x="-7.80">m</text><text transform="translate(235.56,150.00) scale(0.983,1)" x="-2.07">i</text><text transform="translate(240.56,150.00) scale(0.983,1)" x="-2.08">l</text><text transform="translate(248.30,150.00) scale(0.865,1)" x="-5.60">a</text><text transform="translate(258.61,150.00) scale(1.232,1)" x="-3.58">r</text><text transform="translate(263.99,150.00) scale(0.983,1)" x="-2.07">i</text><text transform="translate(270.05,150.00) scale(1.285,1)" x="-2.67">t</text><text transform="translate(278.87,150.00) scale(1.033,1)" x="-4.68">y</text></g>
<g font-size="18.72" fill="#333333" stroke="#333333" stroke-width="0.15"><text transform="translate(58.78,194.00) scale(0.920,1)" x="-7.09">R</text><text transform="translate(69.21,194.00) scale(1.039,1)" x="-5.19">e</text><text transform="translate(79.47,194.00) scale(0.922,1)" x="-4.60">s</text><text transform="translate(89.62,194.00) scale(1.022,1)" x="-5.21">o</text><text transform="translate(100.78,194.00) scale(1.037,1)" x="-5.19">u</text><text transform="translate(111.05,194.00) scale(1.232,1)" x="-3.58">r</text><text transform="translate(118.44,194.00) scale(0.965,1)" x="-4.83">c</text><text transform="translate(129.01,194.00) scale(1.039,1)" x="-5.19">e</text><text transform="translate(146.40,194.00) scale(0.969,1)" x="-6.24">A</text><text transform="translate(155.07,194.00) scale(0.983,1)" x="-2.08">l</text><text transform="translate(160.07,194.00) scale(0.983,1)" x="-2.08">l</text><text transform="translate(168.08,194.00) scale(1.022,1)" x="-5.21">o</text><text transform="translate(178.46,194.00) scale(0.965,1)" x="-4.83">c</text><text transform="translate(188.71,194.00) scale(0.865,1)" x="-5.60">a</text><text transform="translate(198.06,194.00) scale(1.285,1)" x="-2.67">t</text><text transform="translate(204.07,194.00) scale(0.983,1)" x="-2.07">i</text><text transform="translate(212.07,194.00) scale(1.022,1)" x="-5.21">o</text><text transform="translate(223.33,194.00) scale(1.037,1)" x="-5.22">n</text><text transform="translate(237.36,194.00) scale(1.017,1)" x="-2.60">I</text><text transform="translate(245.77,194.00) scale(1.037,1)" x="-5.22">n</text><text transform="translate(256.81,194.00) scale(1.045,1)" x="-5.00">d</text><text transform="translate(268.40,194.00) scale(1.039,1)" x="-5.19">e</text><text transform="translate(278.84,194.00) scale(1.067,1)" x="-4.68">x</text></g>
<g font-size="18.72" fill="#333333" stroke="#333333" stroke-width="0.15"><text transform="translate(19.27,237.00) scale(0.850,1)" x="-6.52">P</text><text transform="translate(28.27,237.00) scale(1.232,1)" x="-3.58">r</text><text transform="translate(36.33,237.00) scale(1.039,1)" x="-5.19">e</text><text transform="translate(45.40,237.00) scale(1.263,1)" x="-2.75">f</text><text transform="translate(53.74,237.00) scale(1.039,1)" x="-5.19">e</text><text transform="translate(63.78,237.00) scale(1.232,1)" x="-3.58">r</text><text transform="translate(71.84,237.00) scale(1.039,1)" x="-5.19">e</text><text transform="translate(83.12,237.00) scale(1.037,1)" x="-5.22">n</text><text transform="translate(92.32,237.00) scale(1.285,1)" x="-2.67">t</text><text transform="translate(98.33,237.00) scale(0.983,1)" x="-2.07">i</text><text transform="translate(106.07,237.00) scale(0.865,1)" x="-5.60">a</text><text transform="translate(114.36,237.00) scale(0.983,1)" x="-2.08">l</text><text transform="translate(128.73,237.00) scale(0.969,1)" x="-6.24">A</text><text transform="translate(138.07,237.00) scale(1.285,1)" x="-2.67">t</text><text transform="translate(145.13,237.00) scale(1.285,1)" x="-2.67">t</text><text transform="translate(153.87,237.00) scale(0.865,1)" x="-5.60">a</text><text transform="translate(164.55,237.00) scale(0.965,1)" x="-4.83">c</text><text transform="translate(175.32,237.00) scale(1.044,1)" x="-5.25">h</text><text transform="translate(189.79,237.00) scale(1.096,1)" x="-7.80">m</text><text transform="translate(204.06,237.00) scale(1.039,1)" x="-5.19">e</text><text transform="translate(215.33,237.00) scale(1.037,1)" x="-5.22">n</text><text transform="translate(224.54,237.00) scale(1.285,1)" x="-2.67">t</text><text transform="translate(239.57,237.00) scale(0.857,1)" x="-6.24">S</text><text transform="translate(250.08,237.00) scale(0.965,1)" x="-4.83">c</text><text transform="translate(260.60,237.00) scale(1.022,1)" x="-5.21">o</text><text transform="translate(270.62,237.00) scale(1.232,1)" x="-3.58">r</text><text transform="translate(278.68,237.00) scale(1.039,1)" x="-5.19">e</text></g>
<g font-size="18.72" fill="#333333" stroke="#333333" stroke-width="0.15"><text transform="translate(117.40,281.00) scale(0.800,1)" x="-4.13">J</text><text transform="translate(126.64,281.00) scale(0.865,1)" x="-5.60">a</text><text transform="translate(137.32,281.00) scale(0.965,1)" x="-4.83">c</text><text transform="translate(147.22,281.00) scale(0.965,1)" x="-4.83">c</text><text transform="translate(157.47,281.00) scale(0.865,1)" x="-5.60">a</text><text transform="translate(167.78,281.00) scale(1.232,1)" x="-3.58">r</text><text transform="translate(175.68,281.00) scale(1.045,1)" x="-5.00">d</text><text transform="translate(193.73,281.00) scale(0.893,1)" x="-6.88">C</text><text transform="translate(205.51,281.00) scale(1.022,1)" x="-5.21">o</text><text transform="translate(216.57,281.00) scale(1.039,1)" x="-5.19">e</text><text transform="translate(225.63,281.00) scale(1.263,1)" x="-2.75">f</text><text transform="translate(231.97,281.00) scale(1.263,1)" x="-2.75">f</text><text transform="translate(237.27,281.00) scale(0.983,1)" x="-2.07">i</text><text transform="translate(244.65,281.00) scale(0.965,1)" x="-4.83">c</text><text transform="translate(252.16,281.00) scale(0.983,1)" x="-2.07">i</text><text transform="translate(260.21,281.00) scale(1.039,1)" x="-5.19">e</text><text transform="translate(271.49,281.00) scale(1.037,1)" x="-5.22">n</text><text transform="translate(280.70,281.00) scale(1.285,1)" x="-2.67">t</text></g>
<g font-size="18.72" fill="#000000" stroke="#000000" stroke-width="0.15"><text transform="translate(338.52,362.00) scale(0.857,1)" x="-6.24">S</text><text transform="translate(350.91,362.00) scale(0.956,1)" x="-6.76">H</text><text transform="translate(363.83,362.00) scale(0.969,1)" x="-6.24">A</text><text transform="translate(375.99,362.00) scale(0.850,1)" x="-6.52">P</text><text transform="translate(391.89,362.00) scale(1.038,1)" x="-4.68">v</text><text transform="translate(402.45,362.00) scale(0.865,1)" x="-5.60">a</text><text transform="translate(410.75,362.00) scale(0.983,1)" x="-2.08">l</text><text transform="translate(418.90,362.00) scale(1.037,1)" x="-5.19">u</text><text transform="translate(430.21,362.00) scale(1.039,1)" x="-5.19">e</text><text transform="translate(445.02,362.00) scale(0.813,1)" x="-3.64">(</text><text transform="translate(450.98,362.00) scale(0.983,1)" x="-2.07">i</text><text transform="translate(462.30,362.00) scale(1.096,1)" x="-7.80">m</text><text transform="translate(477.05,362.00) scale(1.046,1)" x="-5.42">p</text><text transform="translate(487.67,362.00) scale(0.865,1)" x="-5.60">a</text><text transform="translate(498.35,362.00) scale(0.965,1)" x="-4.83">c</text><text transform="translate(506.92,362.00) scale(1.285,1)" x="-2.67">t</text><text transform="translate(521.65,362.00) scale(1.022,1)" x="-5.21">o</text><text transform="translate(532.91,362.00) scale(1.037,1)" x="-5.22">n</text><text transform="translate(553.10,362.00) scale(1.096,1)" x="-7.80">m</text><text transform="translate(567.33,362.00) scale(1.022,1)" x="-5.21">o</text><text transform="translate(578.22,362.00) scale(1.045,1)" x="-5.00">d</text><text transform="translate(589.81,362.00) scale(1.039,1)" x="-5.19">e</text><text transform="translate(597.84,362.00) scale(0.983,1)" x="-2.08">l</text><text transform="translate(611.56,362.00) scale(1.022,1)" x="-5.21">o</text><text transform="translate(622.72,362.00) scale(1.037,1)" x="-5.19">u</text><text transform="translate(632.03,362.00) scale(1.285,1)" x="-2.67">t</text><text transform="translate(641.57,362.00) scale(1.046,1)" x="-5.42">p</text><text transform="translate(652.61,362.00) scale(1.037,1)" x="-5.19">u</text><text transform="translate(661.92,362.00) scale(1.285,1)" x="-2.67">t</text><text transform="translate(668.88,362.00) scale(0.813,1)" x="-2.59">)</text></g>
<rect x="713" y="12" width="4" height="305.7" fill="url(#cb)"/>
<g font-size="15.89" fill="#000000" stroke="#000000" stroke-width="0.15"><text transform="translate(727.05,18.00) scale(0.956,1)" x="-5.74">H</text><text transform="translate(734.89,18.00) scale(0.983,1)" x="-1.76">i</text><text transform="translate(741.58,18.00) scale(1.045,1)" x="-4.24">g</text><text transform="translate(751.57,18.00) scale(1.044,1)" x="-4.45">h</text></g>
<g font-size="15.89" fill="#000000" stroke="#000000" stroke-width="0.15"><text transform="translate(726.37,324.00) scale(0.989,1)" x="-4.81">L</text><text transform="translate(734.32,324.00) scale(1.022,1)" x="-4.42">o</text><text transform="translate(745.23,324.00) scale(0.972,1)" x="-5.75">w</text></g>
<g transform="translate(770,221.2) rotate(-90)"><g font-size="17.34" fill="#000000" stroke="#000000" stroke-width="0.15"><text transform="translate(3.49,0.00) scale(0.824,1)" x="-5.66">F</text><text transform="translate(12.20,0.00) scale(1.039,1)" x="-4.80">e</text><text transform="translate(22.13,0.00) scale(0.865,1)" x="-5.19">a</text><text transform="translate(30.76,0.00) scale(1.285,1)" x="-2.48">t</text><text transform="translate(39.22,0.00) scale(1.037,1)" x="-4.81">u</text><text transform="translate(48.71,0.00) scale(1.232,1)" x="-3.32">r</text><text transform="translate(56.13,0.00) scale(1.039,1)" x="-4.80">e</text><text transform="translate(71.43,0.00) scale(1.038,1)" x="-4.33">v</text><text transform="translate(81.19,0.00) scale(0.865,1)" x="-5.19">a</text><text transform="translate(88.84,0.00) scale(0.983,1)" x="-1.93">l</text><text transform="translate(96.37,0.00) scale(1.037,1)" x="-4.81">u</text><text transform="translate(106.82,0.00) scale(1.039,1)" x="-4.80">e</text></g></g>
</svg></body></html>
